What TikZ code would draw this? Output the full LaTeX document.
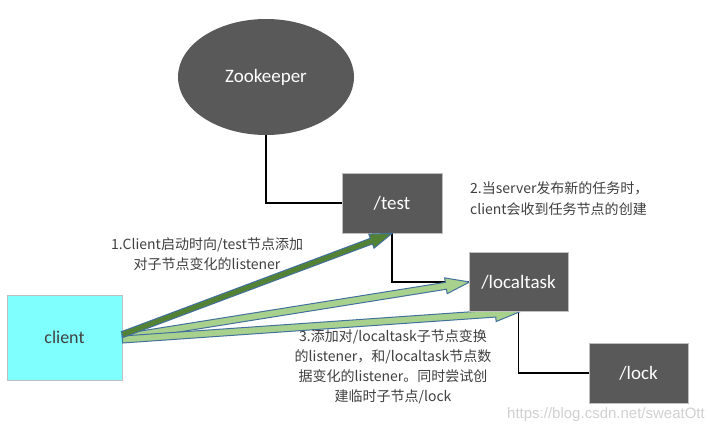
\documentclass[tikz,border=0pt]{standalone}
\usepackage{fontspec}
\setmainfont{Carlito}
\newfontfamily\cjk{Noto Sans CJK SC}
\newfontfamily\wmfont{Liberation Sans}
\usetikzlibrary{calc,shapes.geometric}
\definecolor{nodegray}{HTML}{595959}
\definecolor{txtgray}{HTML}{404040}
\definecolor{cyanfill}{HTML}{80FFFF}
\definecolor{darkarrow}{HTML}{548235}
\definecolor{lightarrow}{HTML}{A9D18E}
\definecolor{arrowedge}{HTML}{41719C}
\tikzset{
  darkbox/.style={rectangle, fill=nodegray, draw=black!25, line width=0.8pt, text=white, font=\fontsize{19}{22}\selectfont, inner sep=0pt},
  clientbox/.style={rectangle, fill=cyanfill, draw=black!25, line width=0.8pt, text=txtgray, font=\fontsize{18}{21}\selectfont, inner sep=0pt, minimum width=115pt, minimum height=85pt},
  link/.style={draw=black, line width=1.2pt},
  note/.style={text=txtgray, font=\cjk\fontsize{14}{20}\selectfont, inner sep=0pt},
  watermark/.style={text=black!18, font=\wmfont\fontsize{15}{18}\selectfont, inner sep=0pt}
}
% block arrow: #1 start, #2 end, #3 body half width, #4 head half width, #5 head length, #6 fill
\newcommand{\blockarr}[6]{%
  \path[fill=#6, draw=arrowedge, line width=1pt, line join=miter]
    let \p0 = ($(#2)!#5!(#1)$) in
    ($(#1)!#3!90:(#2)$) -- ($(\p0)!#3!90:(#2)$) -- ($(\p0)!#4!90:(#2)$) -- (#2)
    -- ($(\p0)!#4!-90:(#2)$) -- ($(\p0)!#3!-90:(#2)$) -- ($(#1)!#3!-90:(#2)$) -- cycle;}
\begin{document}
\begin{tikzpicture}[x=1pt, y=-1pt]
\useasboundingbox[fill=white] (0,0) rectangle (708,433);

% nodes
\node[ellipse, fill=nodegray, text=white, font=\fontsize{19}{22}\selectfont, minimum width=176pt, minimum height=116pt, inner sep=0pt] (zk) at (266,77) {Zookeeper};
\node[darkbox, minimum width=100pt, minimum height=60pt] (test) at (392,203) {/test};
\node[darkbox, minimum width=99pt, minimum height=59pt] (localtask) at (518.5,282) {/localtask};
\node[darkbox, minimum width=99pt, minimum height=60pt] (lock) at (638.5,373) {/lock};
\node[clientbox] (client) at (64.5,337.5) {client};

% tree connectors
\draw[link] (zk.south) |- (test.west);
\draw[link] (test.south) |- (localtask.west);
\draw[link] (localtask.south) |- (lock.west);

% arrows start / end points
\coordinate (s1) at ($(client.east)+(0,-3)$);
\coordinate (s2) at ($(client.east)+(0,0)$);
\coordinate (s3) at ($(client.east)+(0,2)$);
\coordinate (e1) at (test.south);
\coordinate (e2) at ($(localtask.west)+(1,0)$);
\coordinate (e3) at ($(localtask.south)+(1,0)$);

\blockarr{s2}{e2}{3.5pt}{8pt}{24pt}{lightarrow}
\blockarr{s3}{e3}{3.5pt}{8pt}{24pt}{lightarrow}
\blockarr{s1}{e1}{3pt}{7.5pt}{22pt}{darkarrow}

% redraw box over arrow tip
\node[darkbox, minimum width=99pt, minimum height=59pt] at (localtask) {/localtask};

% annotations
\node[note, align=center] (n1) at (207,254.5) {1.Client启动时向/test节点添加\\对子节点变化的listener};
\node[note, align=left, anchor=west, font=\cjk\fontsize{14}{21}\selectfont] (n2) at (470,198.5) {2.当server发布新的任务时，\\client会收到任务节点的创建};
\node[note, align=center] (n3) at (393,366.5) {3.添加对/localtask子节点变换\\的listener，和/localtask节点数\\据变化的listener。同时尝试创\\建临时子节点/lock};

\node[watermark, anchor=east] (wm) at (705,415) {https://blog.csdn.net/sweatOtt};
\end{tikzpicture}
\end{document}
